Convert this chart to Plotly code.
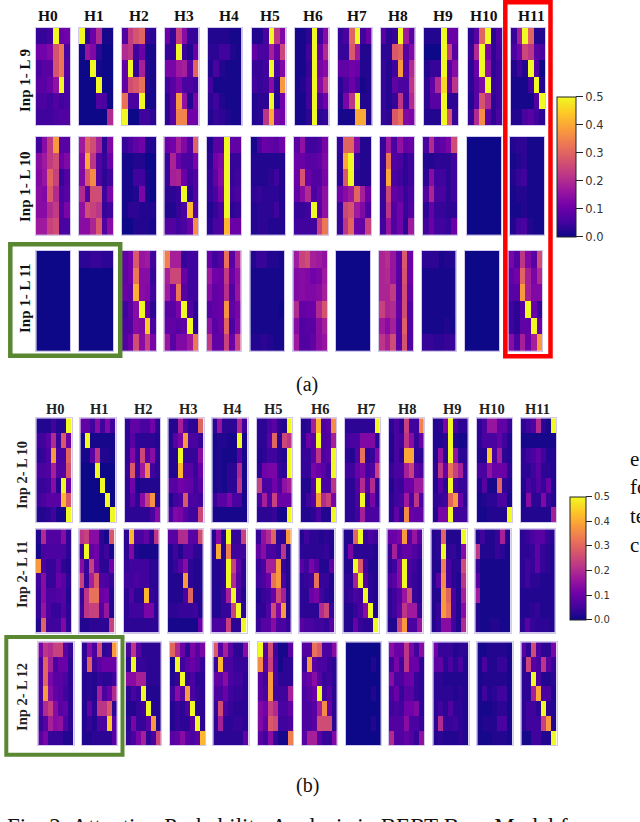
import numpy as np
import plotly.graph_objects as go

# attention probability heatmaps, values in hundredths, one block per layer row
heads = ["H0", "H1", "H2", "H3", "H4", "H5", "H6", "H7", "H8", "H9", "H10", "H11"]

inp1_l9 = [
    [[4,4,5,50,10,11],[11,11,13,27,33,6],[6,8,8,27,33,7],[8,8,10,15,50,6],[6,6,5,7,5,6],[5,5,5,6,7,7]],
    [[50,3,10,20,1,1],[1,16,13,3,0,0],[0,0,50,1,0,0],[0,0,0,50,0,0],[0,0,0,7,6,0],[0,0,0,0,0,20]],
    [[7,23,27,30,4,3],[20,22,5,10,1,1],[9,50,4,18,2,1],[9,26,28,32,2,1],[32,6,6,50,1,1],[50,0,0,5,5,3]],
    [[10,4,24,14,4,4],[4,4,50,4,2,10],[12,12,17,18,8,30],[5,8,12,6,6,5],[3,8,38,15,2,12],[3,8,35,35,11,11]],
    [[2,2,2,2,1,1],[3,3,5,5,2,1],[2,6,2,1,1,1],[5,1,1,1,1,1],[3,5,2,1,1,1],[2,4,3,2,1,1]],
    [[2,2,6,50,22,13],[9,6,6,18,10,25],[4,4,5,50,6,13],[5,4,5,14,3,38],[2,3,3,50,2,11],[2,3,22,40,12,11]],
    [[1,1,3,50,5,14],[1,1,5,50,10,20],[1,1,4,50,12,14],[1,2,5,50,14,22],[1,1,5,50,7,11],[1,1,3,50,3,4]],
    [[4,6,30,50,5,10],[4,4,28,17,2,2],[9,9,11,10,2,2],[3,6,10,6,1,2],[2,12,22,50,2,2],[1,1,1,40,40,2]],
    [[8,3,4,50,17,8],[3,3,28,30,8,13],[4,2,5,38,8,20],[4,2,9,6,6,22],[4,2,4,22,5,20],[4,3,28,32,13,12]],
    [[2,2,2,50,10,10],[0,0,0,50,24,8],[2,4,4,50,8,14],[3,9,20,46,9,22],[3,8,8,50,3,3],[2,2,2,50,27,4]],
    [[3,8,30,50,3,7],[4,20,50,12,3,6],[3,10,50,15,3,5],[3,8,13,50,4,5],[2,8,27,20,3,5],[4,20,36,8,3,6]],
    [[4,18,50,30,2,2],[6,11,25,22,8,6],[2,5,2,50,7,0],[1,1,1,5,50,2],[1,1,1,1,7,50],[2,2,6,8,5,3]],
]
inp1_l10 = [
    [[5,14,23,38,8,8],[14,17,23,26,10,13],[13,16,30,24,4,7],[14,13,28,20,6,8],[14,14,20,23,7,12],[17,17,24,26,6,6]],
    [[17,30,26,18,3,13],[14,40,22,7,4,10],[13,28,36,7,3,5],[20,7,26,26,5,12],[15,26,24,22,4,5],[14,14,19,28,7,14]],
    [[4,6,9,11,2,2],[1,1,2,2,0,0],[1,1,5,5,1,0],[1,1,2,12,1,0],[1,3,3,2,2,2],[0,0,2,2,2,1]],
    [[10,11,18,13,7,30],[4,19,10,6,6,12],[4,18,19,10,5,7],[3,3,4,50,3,7],[2,2,4,6,42,8],[7,7,5,6,10,36]],
    [[2,8,8,50,9,9],[3,11,13,50,4,4],[4,9,14,50,4,5],[4,6,12,50,5,6],[2,4,6,50,3,4],[3,6,6,42,10,10]],
    [[1,6,10,9,8,11],[2,2,2,2,2,2],[2,2,2,3,5,2],[3,4,3,3,3,2],[2,3,3,3,5,2],[2,3,3,2,2,2]],
    [[8,15,5,5,6,12],[10,10,8,8,9,13],[10,27,10,7,7,12],[9,14,20,6,9,15],[4,4,5,50,8,15],[5,5,5,5,24,33]],
    [[4,30,30,14,2,2],[3,40,50,4,2,2],[3,28,50,3,2,2],[11,14,17,30,18,10],[4,25,27,17,13,6],[4,22,30,10,9,24]],
    [[4,17,6,15,9,10],[4,33,7,6,3,5],[4,40,6,5,3,5],[4,25,9,8,4,6],[4,22,7,11,4,7],[5,16,7,11,3,17]],
    [[6,20,8,9,12,26],[2,2,3,3,3,5],[3,14,5,5,3,5],[7,19,6,6,3,5],[3,9,4,4,3,3],[5,10,5,5,4,10]],
    [[0,0,0,0,0,0],[0,0,0,0,0,0],[0,0,0,0,0,0],[0,0,0,0,0,0],[0,0,0,0,0,0],[0,0,0,0,0,0]],
    [[2,3,3,1,1,1],[1,2,3,1,1,1],[2,4,5,1,1,1],[1,2,2,1,1,1],[1,1,2,1,1,1],[2,5,6,2,1,1]],
]
inp1_l11 = [
    [[0,0,0,0,0,0],[0,0,0,0,0,0],[0,0,0,0,0,0],[0,0,0,0,0,0],[0,0,0,0,0,0],[0,0,0,0,0,0]],
    [[3,3,4,4,3,3],[0,0,0,0,0,0],[0,0,0,0,0,0],[0,0,0,0,0,0],[0,0,0,0,0,0],[0,0,0,0,0,0]],
    [[9,11,28,16,17,5],[9,11,33,14,14,4],[10,9,41,14,13,5],[5,8,14,50,10,3],[6,7,14,13,44,6],[7,10,26,14,24,12]],
    [[34,18,18,4,5,5],[18,25,25,10,5,5],[17,11,33,8,5,5],[8,8,12,50,7,3],[9,9,8,9,50,3],[16,8,13,13,17,33]],
    [[10,5,7,32,8,19],[17,11,10,23,10,15],[14,9,10,21,7,16],[8,9,10,37,9,12],[15,8,10,30,6,13],[23,9,9,24,10,24]],
    [[2,4,4,2,2,1],[1,1,1,1,1,1],[1,1,1,1,1,1],[1,1,1,1,1,0],[1,1,1,1,1,1],[2,2,3,2,1,1]],
    [[17,24,26,18,17,15],[13,14,13,11,12,17],[13,14,13,13,14,18],[20,9,10,10,20,27],[14,7,8,8,14,18],[17,7,7,9,14,16]],
    [[0,0,0,0,0,0],[0,0,0,0,0,0],[0,0,0,0,0,0],[0,0,0,0,0,0],[0,0,0,0,0,0],[0,0,0,0,0,0]],
    [[19,21,16,8,28,10],[19,20,16,8,27,10],[19,19,23,8,26,9],[24,19,20,9,26,7],[17,14,18,8,29,7],[22,18,26,8,27,7]],
    [[3,3,3,1,2,2],[1,1,1,1,1,1],[1,1,1,1,1,1],[1,1,1,1,1,1],[1,1,1,1,2,1],[4,4,3,3,4,4]],
    [[0,0,0,0,0,0],[0,0,0,0,0,0],[0,0,0,0,0,0],[0,0,0,0,0,0],[0,0,0,0,0,0],[0,0,0,0,0,0]],
    [[12,7,22,13,8,26],[9,11,30,18,12,20],[8,8,38,18,13,13],[5,3,8,50,10,4],[5,3,9,9,50,10],[14,6,18,10,18,38]],
]
inp2_l10 = [
    [[2,2,2,5,2,2,50],[5,5,8,20,4,28,10],[3,4,6,38,6,6,30],[6,6,7,18,7,7,27],[4,4,5,14,2,50,10],[5,6,8,8,8,42,28],[2,2,3,5,1,1,50]],
    [[9,9,5,14,5,13,5],[1,50,1,1,1,1,1],[1,1,8,22,2,2,1],[0,0,0,50,0,0,0],[0,0,0,0,50,0,0],[0,0,0,0,0,50,0],[0,0,0,0,0,0,50]],
    [[3,9,9,6,6,11,3],[3,8,3,3,3,3,2],[3,13,4,25,8,14,3],[4,28,5,17,35,5,3],[3,11,1,2,2,2,2],[3,8,3,14,24,37,3],[3,3,3,3,3,6,14]],
    [[2,2,18,6,3,3,30],[2,8,12,38,6,6,4],[2,2,50,4,4,4,14],[2,2,42,8,8,4,10],[8,8,11,10,9,5,8],[2,5,6,28,6,6,5],[6,13,12,8,5,5,25]],
    [[3,16,3,3,3,20,5],[1,2,2,1,1,50,1],[1,2,1,1,1,8,1],[1,2,1,3,3,20,1],[1,2,1,3,3,22,1],[4,8,8,12,6,6,1],[1,1,1,1,1,1,1]],
    [[3,3,6,8,3,2,50],[3,3,8,30,3,25,22],[2,3,5,5,3,2,50],[3,11,12,12,4,3,50],[24,6,6,11,6,15,18],[6,18,7,24,10,10,10],[3,3,3,4,1,1,50]],
    [[2,3,18,42,6,8,36],[3,10,8,50,6,7,18],[4,4,8,22,6,8,50],[4,4,12,10,8,5,50],[2,2,8,50,6,6,22],[2,5,8,38,20,24,12],[2,2,3,6,2,2,50]],
    [[3,3,3,3,3,3,50],[5,6,6,13,13,13,3],[3,2,7,32,3,4,13],[5,5,10,12,5,7,24],[3,3,7,20,7,20,3],[3,3,6,50,4,12,3],[3,3,5,18,6,6,6]],
    [[3,6,3,24,5,5,35],[2,6,5,22,14,4,10],[2,6,3,40,40,3,3],[4,6,6,18,24,8,6],[2,5,4,10,10,17,17],[3,5,6,17,6,22,6],[3,9,3,36,10,9,9]],
    [[2,3,12,50,6,3,3],[2,2,3,50,2,1,1],[2,15,3,50,15,3,3],[3,22,10,32,24,18,4],[2,8,3,50,6,4,4],[3,4,5,30,38,10,3],[2,12,12,50,5,5,5]],
    [[3,6,16,16,9,9,4],[3,6,6,6,9,5,2],[2,2,44,6,18,3,2],[6,6,15,10,10,10,3],[2,8,1,1,30,3,2],[1,2,3,3,6,6,1],[1,1,2,2,2,2,50]],
    [[3,5,7,20,3,1,50],[1,1,1,1,1,1,1],[3,5,6,9,5,2,2],[3,3,5,8,3,3,2],[2,6,4,7,4,10,2],[1,14,3,3,13,4,2],[2,2,2,2,2,2,18]],
]
inp2_l11 = [
    [[2,20,7,7,7,14,3],[1,6,6,6,6,6,3],[38,6,4,4,8,3,2],[5,14,4,4,10,8,3],[4,14,6,6,7,8,2],[4,16,6,4,4,7,3],[2,30,5,5,5,13,3]],
    [[22,24,14,14,3,1,28],[4,50,9,11,3,5,1],[14,4,24,10,3,3,11],[24,4,18,28,7,6,4],[4,22,32,32,10,11,2],[5,22,24,24,7,16,2],[2,2,3,3,3,3,24]],
    [[3,42,6,6,9,3,22],[3,13,2,1,1,1,1],[4,5,5,5,5,3,3],[5,5,6,5,5,3,3],[3,7,3,3,42,4,3],[3,5,5,5,12,12,3],[3,3,3,3,3,3,3]],
    [[8,8,20,20,8,8,26],[2,5,2,6,6,3,3],[2,4,8,14,3,2,2],[2,2,2,38,3,2,2],[2,2,2,6,30,2,2],[3,3,4,4,4,5,2],[1,1,1,1,1,1,10]],
    [[2,14,2,50,4,4,24],[2,40,2,34,5,5,5],[2,2,3,50,24,9,3],[2,2,3,50,20,7,3],[2,2,4,18,50,6,2],[2,2,4,4,24,50,3],[6,6,6,24,3,3,50]],
    [[4,15,20,30,3,3,38],[9,14,6,6,4,22,2],[4,6,18,18,38,4,2],[5,6,10,32,38,6,2],[2,4,5,10,26,18,2],[3,3,7,26,12,38,2],[4,8,8,14,6,6,4]],
    [[2,5,3,3,2,3,2],[3,3,3,3,3,4,2],[8,5,12,8,2,2,9],[3,4,5,32,4,4,2],[3,3,10,12,5,3,2],[3,3,3,3,20,25,4],[8,6,6,5,5,4,8]],
    [[2,2,30,50,4,6,5],[2,12,3,3,3,3,2],[2,2,50,28,5,2,2],[3,3,18,50,7,3,2],[3,4,6,5,50,3,2],[2,2,4,6,14,50,2],[2,2,10,4,3,3,50]],
    [[10,10,12,38,8,16,8],[4,18,6,9,9,7,5],[3,5,14,50,6,5,3],[6,8,14,50,6,4,3],[3,5,8,16,26,4,3],[3,5,9,22,17,17,4],[2,2,25,38,6,6,16]],
    [[2,3,30,2,2,2,50],[2,3,50,3,4,2,14],[2,2,34,6,3,3,26],[2,8,36,6,3,2,22],[2,2,38,30,6,2,18],[2,4,38,32,6,2,14],[2,4,14,14,5,2,20]],
    [[2,5,2,2,4,18,2],[22,2,2,2,4,3,1],[4,1,1,1,1,1,1],[8,1,1,1,1,1,1],[17,1,1,1,1,1,1],[2,1,1,1,1,1,1],[2,1,1,2,2,1,1]],
    [[3,4,6,8,8,4,3],[3,3,4,9,4,3,2],[3,5,4,9,4,3,2],[3,5,3,3,2,2,2],[2,2,2,2,2,2,2],[2,2,3,4,2,2,2],[3,8,4,3,3,3,2]],
]
inp2_l12 = [
    [[12,22,20,24,24,8,4],[6,30,18,6,10,10,3],[6,30,12,8,8,6,3],[6,38,14,9,8,5,3],[6,20,24,14,8,9,3],[4,8,18,14,15,7,3],[8,12,4,4,4,2,2]],
    [[3,14,6,26,3,4,38],[3,30,5,8,10,10,10],[2,3,2,4,3,3,5],[2,3,2,18,6,10,20],[2,9,3,22,22,28,3],[2,4,2,6,6,44,8],[2,2,3,3,3,3,8]],
    [[6,22,8,3,3,3,3],[3,50,4,4,3,3,3],[14,14,18,18,3,3,3],[3,6,4,50,2,2,2],[2,2,4,5,50,2,2],[3,12,4,4,8,38,2],[4,6,12,18,3,6,25]],
    [[30,20,10,3,12,8,12],[1,50,5,8,10,8,4],[2,4,50,4,6,3,3],[5,14,8,38,6,4,3],[2,4,3,6,50,3,3],[2,4,3,3,8,50,3],[8,9,14,8,6,8,42]],
    [[28,8,18,8,3,3,14],[4,42,6,6,4,4,4],[9,9,14,6,5,5,3],[6,6,10,5,4,4,3],[4,26,6,4,3,3,3],[3,18,3,3,4,4,3],[3,3,3,3,3,3,9]],
    [[50,7,26,5,1,1,8],[36,8,24,6,1,3,3],[8,5,38,6,3,3,3],[8,6,38,5,5,5,18],[13,11,24,20,6,6,9],[13,9,28,26,5,5,6],[8,5,14,4,1,1,34]],
    [[7,7,32,28,6,6,14],[4,38,8,6,6,4,3],[8,10,14,8,4,5,3],[6,8,10,50,5,8,3],[6,6,8,18,36,10,3],[6,6,8,26,26,26,3],[8,18,18,8,4,4,13]],
    [[0,0,0,0,0,0,0],[0,0,0,0,0,2,0],[0,0,0,0,0,0,0],[0,0,0,0,0,2,0],[0,0,0,0,0,0,0],[0,0,0,0,0,2,0],[0,0,0,0,0,0,0]],
    [[14,10,10,22,12,5,14],[5,12,5,22,10,10,3],[14,6,6,10,10,4,3],[6,10,4,8,8,4,3],[5,6,5,11,11,13,3],[7,7,7,14,6,6,4],[20,7,7,9,7,4,15]],
    [[11,4,4,4,2,3,3],[8,9,3,6,3,6,2],[3,3,2,2,2,2,2],[3,3,3,3,2,3,2],[3,5,3,7,3,3,2],[3,20,4,4,5,3,2],[2,3,2,2,2,3,2]],
    [[1,1,2,2,2,2,1],[1,6,2,2,4,4,1],[1,2,2,2,2,2,1],[1,5,2,3,5,5,1],[1,1,1,2,3,3,1],[1,2,2,2,6,6,1],[1,1,1,2,2,2,1]],
    [[8,3,26,6,3,3,12],[3,25,8,6,22,8,4],[3,3,50,6,2,2,3],[3,3,18,40,6,6,2],[3,5,5,3,50,3,2],[3,5,5,5,24,38,2],[1,1,5,5,2,2,50]],
]

W, H = 640, 822
LAVENDER = "#d2c7ec"
GREEN = "#5a8732"
SERIF = "Liberation Serif"

# panel left edges in pixels, one list per row of heatmaps (the source figure is slightly skewed)
left_a0 = [36, 79, 122, 164.5, 207.5, 251.5, 294.5, 337.7, 380.7, 424, 468, 511]
left_a1 = [36, 79, 122, 164.3, 207, 251, 294, 337, 380, 423, 467, 510]
left_a2 = [36.3, 79, 122, 164.3, 206.7, 250.3, 293.3, 336, 379, 421.7, 465, 508.3]
left_b0 = [36.3, 80.3, 125, 168.3, 212.3, 256.7, 301, 344.7, 388.7, 432.7, 477, 521]
left_b1 = [36, 79.3, 123.7, 167.7, 211.3, 255.7, 299.3, 343.3, 387.3, 431.3, 475.3, 519.7]
left_b2 = [38.3, 81.7, 125.7, 170, 213.3, 258, 301.7, 345.7, 389, 433.3, 477.3, 521.3]

rows = [
    (inp1_l9, left_a0, 28, 125, 34, "coloraxis"),
    (inp1_l10, left_a1, 136.7, 235, 34, "coloraxis"),
    (inp1_l11, left_a2, 251, 350.7, 34, "coloraxis"),
    (inp2_l10, left_b0, 418.3, 522, 35.2, "coloraxis2"),
    (inp2_l11, left_b1, 529.3, 632.7, 35.2, "coloraxis2"),
    (inp2_l12, left_b2, 642.3, 745.3, 35.2, "coloraxis2"),
]


def px_x(x):
    return x / W


def px_y(y):
    return 1 - y / H


fig = go.Figure()
layout_axes = {}
n = 0
for panels, lefts, top, bottom, width, cax in rows:
    for panel, left in zip(panels, lefts):
        n += 1
        suffix = "" if n == 1 else str(n)
        fig.add_trace(go.Heatmap(
            z=np.array(panel) / 100,
            coloraxis=cax,
            xaxis="x" + suffix,
            yaxis="y" + suffix,
            xgap=0,
            ygap=0,
        ))
        layout_axes["xaxis" + suffix] = dict(
            domain=[px_x(left), px_x(left + width)], anchor="y" + suffix,
            showticklabels=False, ticks="", showgrid=False, zeroline=False,
            showline=True, mirror=True, linecolor=LAVENDER, linewidth=1,
        )
        layout_axes["yaxis" + suffix] = dict(
            domain=[px_y(bottom), px_y(top)], anchor="x" + suffix, autorange="reversed",
            showticklabels=False, ticks="", showgrid=False, zeroline=False,
            showline=True, mirror=True, linecolor=LAVENDER, linewidth=1,
        )


def colorbar(left, top, bottom, thickness, size, ticklen):
    return dict(
        x=px_x(left), xanchor="left", xpad=0,
        y=px_y(top), yanchor="top", ypad=0,
        lenmode="pixels", len=bottom - top,
        thicknessmode="pixels", thickness=thickness,
        outlinecolor="#222222", outlinewidth=1,
        ticks="outside", ticklen=ticklen, tickcolor="#222222", tickwidth=1,
        tick0=0, dtick=0.1, tickformat=".1f",
        tickfont=dict(family="DejaVu Sans", size=size, color="#333333"),
    )


fig.update_layout(
    width=W, height=H, margin=dict(l=0, r=0, t=0, b=0),
    paper_bgcolor="white", plot_bgcolor="white", showlegend=False,
    coloraxis=dict(colorscale="Plasma", cmin=0, cmax=0.5,
                   colorbar=colorbar(557.3, 96.7, 236.7, 19, 11.5, 7)),
    coloraxis2=dict(colorscale="Plasma", cmin=0, cmax=0.5,
                    colorbar=colorbar(570, 496.7, 619.3, 16, 10, 6)),
    **layout_axes,
)


def label(text, x, y, size, bold=False, angle=0, anchor="center", color="#111111"):
    fig.add_annotation(
        x=px_x(x), y=px_y(y), xref="paper", yref="paper",
        text="<b>%s</b>" % text if bold else text,
        showarrow=False, xanchor=anchor, yanchor="middle", textangle=angle,
        font=dict(family=SERIF, size=size, color=color),
    )


# head titles
centers_a = [47.5, 94, 139, 184, 229, 270, 313, 357, 398, 443, 484, 531]
centers_b = [55, 99, 143, 188, 232, 273, 320, 366, 407, 452, 492, 537]
for name, x in zip(heads, centers_a):
    label(name, x, 15, 15.5, bold=True)
for name, x in zip(heads, centers_b):
    label(name, x, 409, 14.5, bold=True, color="#222222")

# layer labels
label("Inp 1- L 9", 25, 81, 15, bold=True, angle=-90)
label("Inp 1- L 10", 25, 187, 15, bold=True, angle=-90)
label("Inp 1- L 11", 25, 298, 15, bold=True, angle=-90)
label("Inp 2- L 10", 22, 475, 14.5, bold=True, angle=-90, color="#222222")
label("Inp 2- L 11", 22, 575, 14.5, bold=True, angle=-90, color="#222222")
label("Inp 2- L 12", 22, 697, 14.5, bold=True, angle=-90, color="#222222")

# sub captions and the text cut off by the crop
label("(a)", 307, 385, 20)
label("(b)", 307, 785, 20)
label("e", 628, 459, 21, anchor="left")
label("fo", 628, 487, 21, anchor="left")
label("te", 628, 516, 21, anchor="left")
label("c", 628, 545, 21, anchor="left")
label("Fig. 2: Attention Probability Analysis in BERT-Base Model fo", 5, 826.5, 23, anchor="left")

# highlight boxes
for x0, y0, x1, y1, color, lw in [
    (505.3, 2.3, 550.5, 356.2, "#fe0000", 4.5),
    (10.3, 244.2, 120.2, 355.8, GREEN, 4.5),
    (6.3, 637, 122.5, 754.7, GREEN, 4),
]:
    fig.add_shape(
        type="rect", xref="paper", yref="paper",
        x0=px_x(x0), x1=px_x(x1), y0=px_y(y0), y1=px_y(y1),
        line=dict(color=color, width=lw), layer="above",
    )

fig.write_html("out.html", config={"displayModeBar": False},
               post_script="document.body.style.margin='0';")
